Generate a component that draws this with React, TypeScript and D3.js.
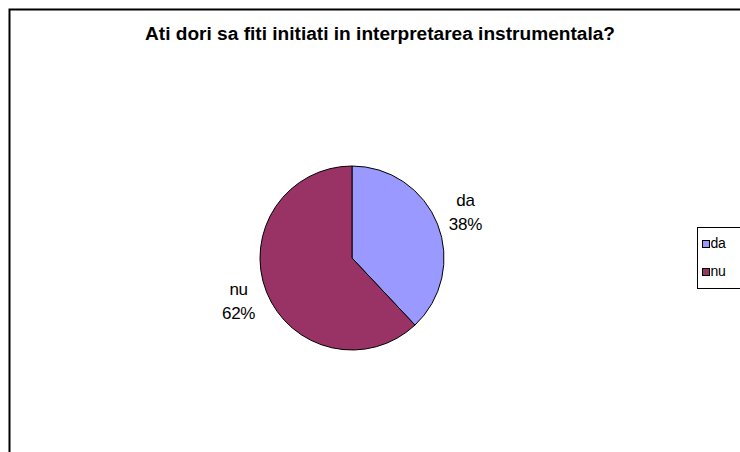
import React from "react";
import * as d3 from "d3";

const categories = ["da", "nu"];
const values = [38, 62];
const colors = ["#9999FF", "#993366"];
const title = "Ati dori sa fiti initiati in interpretarea instrumentala?";

export default function App() {
  const W = 740, H = 452;
  const cx = 352, cy = 258, r = 92;
  const pie = d3.pie<number>().sort(null).value((d) => d);
  const arcs = pie(values);
  const arc = d3.arc<d3.PieArcDatum<number>>().innerRadius(0).outerRadius(r);
  const labelArc = d3.arc<d3.PieArcDatum<number>>().innerRadius(122).outerRadius(122);
  const total = d3.sum(values);
  const font = "'Liberation Sans', Arial, sans-serif";
  return (
    <svg width={W} height={H} style={{ position: "absolute", left: 0, top: 0, background: "#fff" }}>
      <rect x={9.5} y={9.5} width={800} height={500} fill="#fff" stroke="#000" strokeWidth={2} />
      <text x={380} y={40} textAnchor="middle" fontFamily={font} fontWeight="bold" fontSize={17.5}
        textLength={470} lengthAdjust="spacingAndGlyphs">{title}</text>
      <g transform={`translate(${cx},${cy})`}>
        {arcs.map((a, i) => (
          <path key={i} d={arc(a) || ""} fill={colors[i]} stroke="#000" strokeWidth={1} />
        ))}
        {arcs.map((a, i) => {
          const [lx, ly] = labelArc.centroid(a);
          return (
            <text key={"l" + i} x={lx} y={ly} textAnchor="middle" fontFamily={font} fontSize={17} letterSpacing={-0.3}>
              <tspan x={lx} dy={-7.5}>{categories[i]}</tspan>
              <tspan x={lx} dy={24}>{Math.round((values[i] / total) * 100)}%</tspan>
            </text>
          );
        })}
      </g>
      <g>
        <rect x={697.5} y={227.5} width={60} height={61} fill="#fff" stroke="#000" strokeWidth={1} />
        {categories.map((c, i) => (
          <g key={c} transform={`translate(0,${i * 28})`}>
            <rect x={702.5} y={240.5} width={7} height={7} fill={colors[i]} stroke="#000" strokeWidth={1} />
            <text x={710.5} y={248} fontFamily={font} fontSize={14} letterSpacing={-0.4}>{c}</text>
          </g>
        ))}
      </g>
    </svg>
  );
}
